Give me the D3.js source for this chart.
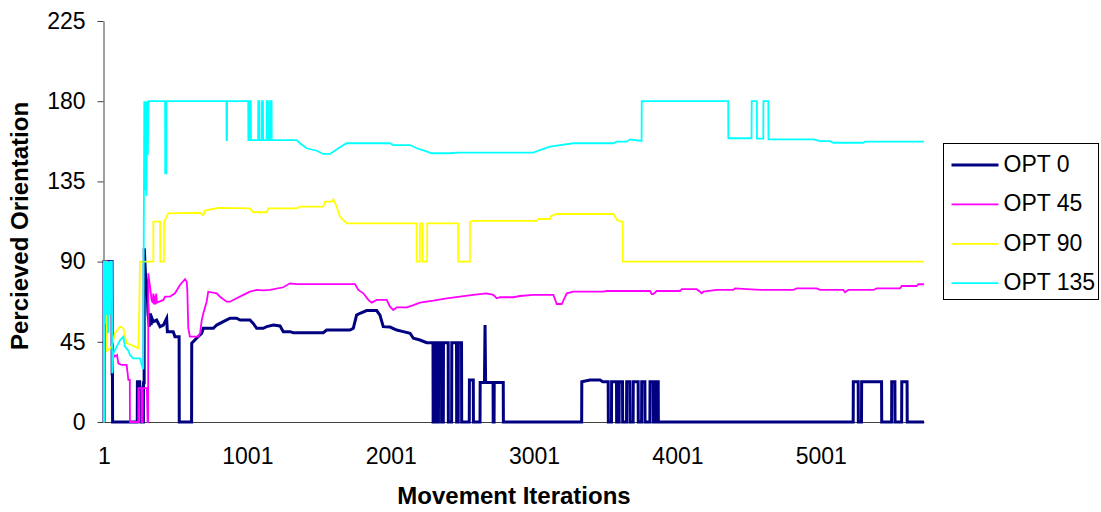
<!DOCTYPE html>
<html>
<head>
<meta charset="utf-8">
<script src="https://cdn.jsdelivr.net/npm/d3@7"></script>
<style>
  html, body { margin: 0; padding: 0; background: #fff; }
  svg { display: block; font-family: "Liberation Sans", Arial, sans-serif; }
</style>
</head>
<body>
<svg id="chart" width="1101" height="512"></svg>
<script>
// [iteration, perceived orientation]
const opt0 = [[1,0],[1,90],[57,90],[58,27],[60,27],[61,0],
  [233,0],[234,22.6],[250,22.6],[252,19],[258,19],[259,0],[276,0],[277,22],[281,22],[282,97.5],
  [291,81.5],[299,79.3],[308,61],[317,53.5],[322,61],[329,54.4],[336,58.2],[345,56.3],[368,57.2],
  [392,53.5],[415,54.4],[438,58.2],[443,50.7],[484,50.7],[496,47.9],[525,47.9],[526,0],[612,0],
  [613,44.2],[647,47],[683,49.8],[694,52.6],[764,52.6],[787,54.4],[833,56.3],[880,58.2],[926,58.2],
  [950,57.2],[1019,57.2],[1042,55.3],[1066,52.6],[1112,52.6],[1136,53.5],[1182,54.4],[1229,53.9],
  [1252,50.7],[1298,50.7],[1322,50.1],[1531,50.1],[1554,51.6],[1717,51.6],[1740,52.6],[1763,60],
  [1787,61],[1833,62.5],[1903,62.5],[1926,60],[1949,53.5],[1996,53.3],[2043,51.6],[2089,50.7],
  [2136,49.8],[2159,47],[2205,46],[2252,44.5],
  [2296,44.5],[2297,0],[2305,0],[2306,44.5],[2312,44.5],[2313,0],[2320,0],[2321,44.5],[2330,44.5],
  [2331,0],[2334,0],[2335,44.5],[2355,44.5],[2356,0],[2368,0],[2369,44.5],[2402,44.5],[2403,0],
  [2426,0],[2427,44.5],[2460,44.5],[2461,0],[2472,0],[2473,44.5],[2495,44.5],[2496,0],[2549,0],
  [2550,23.6],[2577,23.6],[2578,0],[2624,0],[2625,22.1],[2655,22.1],[2659,54.4],[2663,22.1],
  [2715,22.1],[2716,0],[2722,0],[2723,22.1],[2786,22.1],[2787,0],[3333,0],[3334,22.6],[3391,23.6],
  [3461,23.6],[3480,22.6],[3518,22.6],[3519,0],[3541,0],[3542,22.6],[3576,22.6],[3577,0],[3594,0],
  [3595,22.6],[3618,22.6],[3619,0],[3646,0],[3647,22.6],[3669,22.6],[3670,0],[3692,0],[3693,22.6],
  [3727,22.6],[3728,0],[3751,0],[3752,22.6],[3774,22.6],[3775,0],[3809,0],[3810,22.6],[3832,22.6],
  [3833,0],[3851,0],[3852,22.6],[3867,22.6],[3868,0],[5227,0],[5228,22.6],[5262,22.6],[5263,0],
  [5285,0],[5286,22.6],[5425,22.6],[5426,0],[5495,0],[5496,22.6],[5518,22.6],[5519,0],[5565,0],
  [5566,22.6],[5603,22.6],[5604,0],[5721,0]];

const opt45 = [[1,0],[1,90],[55,90],[60,40],[71,36.6],[92,37.6],[101,32.9],[124,32],[159,32],
  [171,23.6],[181,23.6],[182,0],[240,0],[241,19],[262,19],[263,0],[270,0],[271,19],[300,19],[305,0],
  [309,0],[310,83.4],[322,75.9],[333,68.5],[341,66.8],[345,72],[350,66],[355,71],[360,66],[365,72],
  [370,67],[415,68.5],[427,70.3],[461,70.3],[496,72.2],[531,76.9],[566,80.1],[578,78.8],[582,74.1],
  [589,52.6],[600,47.9],[659,47.9],[671,49.8],[683,57.2],[694,61],[717,67.5],[728,73.1],[787,72.2],
  [810,70.3],[857,67.5],[880,67.5],[926,69.4],[973,71.3],[1019,73.1],[1066,74.1],[1112,73.8],
  [1159,74.1],[1252,75.6],[1298,77.8],[1345,77.4],[1752,77.4],[1775,74.1],[1810,72.2],[1845,68.5],
  [1868,67],[1903,68.5],[1973,68.5],[1996,64.7],[2019,62.8],[2043,64.3],[2113,64.3],[2159,65.6],
  [2205,67],[2298,68.1],[2392,69.4],[2484,70.3],[2577,71.3],[2670,72.2],[2717,71.3],[2740,69.4],
  [2764,70],[2856,70],[2903,70.7],[2996,71.3],[3136,71.3],[3159,66.2],[3194,66.2],[3229,72.2],
  [3275,73.1],[3484,73.1],[3508,73.5],[3810,73.5],[3822,71.8],[3833,71.8],[3857,73.5],[4019,73.5],
  [4031,74.5],[4135,74.5],[4158,73.1],[4170,72.2],[4182,73.1],[4275,74.1],[4391,74.1],[4403,75],
  [4577,74.1],[4809,74.1],[4832,75],[4972,75],[4996,74.1],[5158,74.1],[5170,72.8],[5193,74.1],
  [5368,74.1],[5391,75],[5554,75],[5566,76.3],[5670,76.3],[5682,77.3],[5721,77.3]];

const opt90 = [[1,0],[2,90],[20,90],[22,40],[55,42.3],[78,49.8],[113,53.5],[136,52.6],[159,44.1],
  [194,43.2],[240,41.3],[247,62.8],[252,90],[345,90],[345,112.4],[392,112.4],[393,90],[419,90],
  [420,112.4],[427,113.3],[449,117.1],[671,117.4],[693,116],[706,118.6],[798,120.2],[1019,119.9],
  [1042,117.7],[1136,117.7],[1147,119.9],[1345,119.9],[1368,120.8],[1531,120.8],[1543,123.6],
  [1589,123.6],[1601,125],[1624,120.8],[1647,115.2],[1694,111.5],[2182,111.5],[2182,90],[2204,90],
  [2205,111.5],[2223,111.5],[2224,90],[2255,90],[2256,111.5],[2471,111.5],[2472,90],[2553,90],
  [2554,112.4],[2577,112.8],[3019,112.8],[3030,113.9],[3112,113.9],[3120,115.6],[3159,116.7],
  [3554,116.7],[3566,115.2],[3580,113.3],[3610,112.4],[3619,112.4],[3620,90],[5721,90]];

const opt135 = [[1,0],[1,90],[8,90],[10,55],[14,90],[20,60],[25,90],[30,50],[36,90],[42,60],[48,90],
  [56,90],[58,27.3],[66,38.5],[90,42.3],[113,46],[136,47.9],[147,42.3],[171,40],[182,37.6],
  [205,35.7],[252,35.7],[264,32],[275,29.6],[282,180],[287,130],[292,180],[297,127],[302,180],
  [307,150],[312,180],[427,180],[428,139.5],[436,139.5],[437,180],[855,180],[856,158.2],[859,158.2],
  [860,180],[1007,180],[1008,158.2],[1018,158.2],[1019,180],[1025,180],[1026,158.2],[1076,158.2],
  [1077,180],[1085,180],[1086,158.2],[1102,158.2],[1103,180],[1110,180],[1111,158.2],[1135,158.2],
  [1136,180],[1145,180],[1146,158.2],[1158,158.2],[1159,180],[1170,180],[1171,158.2],[1345,158.2],
  [1368,156.4],[1415,153.6],[1485,152.2],[1531,150.4],[1578,150.4],[1636,153.6],[1694,156.4],
  [1996,156.4],[2019,155.4],[2136,155.4],[2182,153.6],[2240,152.1],[2287,150.8],[2415,150.8],
  [2461,151.1],[2996,151.1],[3042,152.6],[3112,154.5],[3182,155.4],[3275,156.4],[3554,156.4],
  [3577,157.3],[3647,157.3],[3670,158.6],[3740,157.8],[3751,157.8],[3752,180],[4355,180],
  [4356,159.2],[4518,159.2],[4519,180],[4555,180],[4556,159],[4600,159],[4601,180],[4635,180],
  [4636,158.6],[4949,158.6],[4996,157.6],[5066,157.6],[5089,156.7],[5298,156.7],[5310,157.3],
  [5721,157.3]];

const seriesNames = ['OPT 0', 'OPT 45', 'OPT 90', 'OPT 135'];
const seriesColors = ['#000080', '#ff00ff', '#ffff00', '#00ffff'];
const seriesWidths = [3, 1.8, 1.8, 1.8];
const xTicks = [1, 1001, 2001, 3001, 4001, 5001];
const yTicks = [0, 45, 90, 135, 180, 225];
const lastIteration = 5721;

const svg = d3.select('#chart');
const plot = { left: 104, right: 924, top: 21, bottom: 422 };

const x = d3.scaleLinear().domain([1, lastIteration]).range([plot.left, plot.right]);
const y = d3.scaleLinear().domain([0, 225]).range([plot.bottom, plot.top]);

// x axis (line sits under the OPT 0 trace)
const xAxis = svg.append('g')
    .attr('transform', `translate(0,${plot.bottom})`)
    .call(d3.axisBottom(x).tickValues(xTicks).tickSize(0).tickSizeOuter(0).tickPadding(26)
        .tickFormat(d3.format('d')));
xAxis.select('.domain').attr('stroke', '#404040');
xAxis.selectAll('text').attr('font-size', 23).attr('fill', '#000')
    .style('font-family', '"Liberation Sans", Arial, sans-serif');

// y axis
const yAxis = svg.append('g')
    .attr('transform', `translate(${plot.left - 0.5},0)`)
    .call(d3.axisLeft(y).tickValues(yTicks).tickSize(6).tickSizeOuter(0).tickPadding(12));
yAxis.selectAll('.domain, line').attr('stroke', '#404040');
yAxis.selectAll('text').attr('font-size', 23).attr('fill', '#000')
    .style('font-family', '"Liberation Sans", Arial, sans-serif');

// series lines
const line = d3.line().x(d => x(d[0])).y(d => y(d[1]));
const allSeries = [opt0, opt45, opt90, opt135];

svg.append('g')
    .selectAll('path')
    .data(allSeries)
    .enter().append('path')
    .attr('d', line)
    .attr('fill', 'none')
    .attr('stroke', (d, i) => seriesColors[i])
    .attr('stroke-width', (d, i) => seriesWidths[i])
    .attr('stroke-linejoin', 'miter');

// axis titles
svg.append('text')
    .attr('x', (plot.left + plot.right) / 2)
    .attr('y', 504)
    .attr('text-anchor', 'middle')
    .attr('font-size', 24)
    .attr('font-weight', 'bold')
    .text('Movement Iterations');

svg.append('text')
    .attr('transform', 'translate(28,226) rotate(-90)')
    .attr('text-anchor', 'middle')
    .attr('font-size', 24)
    .attr('font-weight', 'bold')
    .text('Percieved Orientation');

// legend
const legend = svg.append('g').attr('transform', 'translate(943.5,143.5)');
legend.append('rect')
    .attr('width', 155)
    .attr('height', 156)
    .attr('fill', '#fff')
    .attr('stroke', '#000')
    .attr('stroke-width', 1);

const rows = legend.selectAll('g.row')
    .data(seriesNames)
    .enter().append('g')
    .attr('class', 'row')
    .attr('transform', (d, i) => `translate(0,${21.5 + i * 39.4})`);

rows.append('line')
    .attr('x1', 8).attr('x2', 55)
    .attr('stroke', (d, i) => seriesColors[i])
    .attr('stroke-width', (d, i) => seriesWidths[i]);

rows.append('text')
    .attr('x', 60)
    .attr('dy', '0.3em')
    .attr('font-size', 23)
    .text(d => d);
</script>
</body>
</html>
